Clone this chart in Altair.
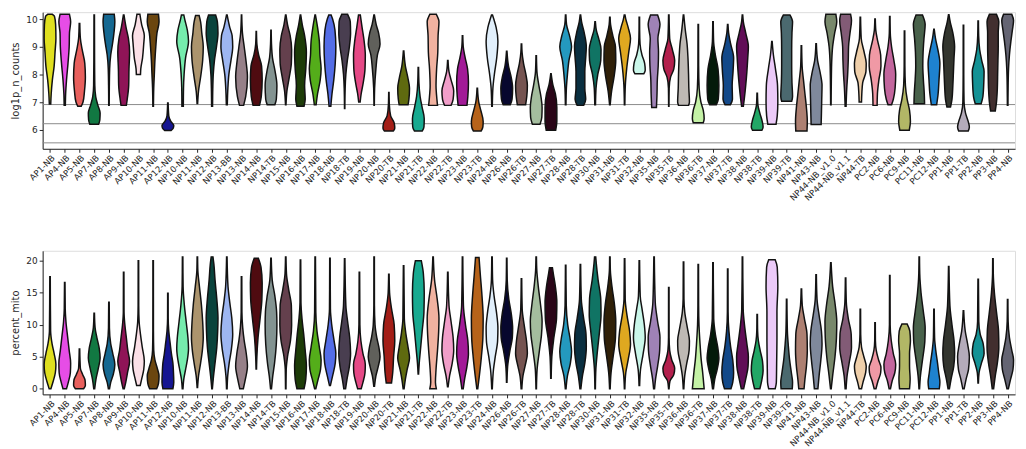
import colorsys
import altair as alt
import pandas as pd

categories = [
    "AP1-NB", "AP4-NB", "AP5-NB", "AP7-NB", "AP8-NB", "AP9-NB", "AP10-NB", "AP11-NB", "AP12-NB",
    "NP10-NB", "NP11-NB", "NP12-NB", "NP13-BB", "NP13-NB", "NP14-NB", "NP14-TB", "NP15-NB",
    "NP16-NB", "NP17-NB", "NP18-NB", "NP18-TB", "NP19-NB", "NP20-NB", "NP20-TB", "NP21-NB",
    "NP21-TB", "NP22-NB", "NP22-TB", "NP23-NB", "NP23-TB", "NP24-NB", "NP26-NB", "NP26-TB",
    "NP27-NB", "NP27-TB", "NP28-NB", "NP28-TB", "NP30-NB", "NP31-NB", "NP31-TB", "NP32-NB",
    "NP35-NB", "NP35-TB", "NP36-NB", "NP36-TB", "NP37-NB", "NP37-TB", "NP38-NB", "NP38-TB",
    "NP39-NB", "NP39-TB", "NP41-NB", "NP43-NB", "NP44-NB_v1.0", "NP44-NB_v1.1", "NP44-TB",
    "PC2-NB", "PC6-NB", "PC9-NB", "PC11-NB", "PC12-NB", "PP1-NB", "PP1-TB", "PP2-NB", "PP3-NB",
    "PP4-NB",
]

palette = [
    "#FFFF00", "#FF34FF", "#FF4A46", "#008941", "#006FA6", "#A30059", "#FFDBE5", "#7A4900",
    "#0000A6", "#63FFAC", "#B79762", "#004D43", "#8FB0FF", "#997D87", "#5A0007", "#809693",
    "#6A3A4C", "#1B4400", "#4FC601", "#3B5DFF", "#4A3B53", "#FF2F80", "#61615A", "#BA0900",
    "#6B7900", "#00C2A0", "#FFAA92", "#FF90C9", "#B903AA", "#D16100", "#DDEFFF", "#000035",
    "#7B4F4B", "#A1C299", "#300018", "#0AA6D8", "#013349", "#00846F", "#372101", "#FFB500",
    "#C2FFED", "#A079BF", "#CC0744", "#C0B9B2", "#C2FF99", "#001E09", "#00489C", "#6F0062",
    "#0CBD66", "#EEC3FF", "#456D75", "#B77B68", "#7A87A1", "#788D66", "#885578", "#FAD09F",
    "#FF8A9A", "#D157A0", "#BEC459", "#456648", "#0086ED", "#34362D", "#B4A8BD", "#00A6AA",
    "#452C2C", "#636375",
]

# threshold lines on log1p_n_counts: log1p(1000), log1p(500), log1p(250)
count_thresholds = [6.909, 6.217, 5.525]

# violin outlines: (value, relative half-width)
counts_profiles = [
    [(6.93, .12), (7.3, .2), (7.8, .4), (8.3, .7), (8.8, .85), (9.3, 1), (9.8, .95), (10.1, .75), (10.17, .4)],
    [(6.88, .1), (7.3, .15), (7.8, .3), (8.4, .55), (9.0, .75), (9.5, .8), (9.9, 1), (10.17, .8)],
    [(6.85, .3), (7.0, .6), (7.4, .85), (7.9, 1), (8.4, .9), (8.9, .45), (9.3, .15), (9.84, .05)],
    [(6.2, .75), (6.35, .95), (6.6, 1), (6.9, .6), (7.2, .25), (7.6, .1), (8.5, .06), (10.15, .04)],
    [(6.88, .04), (7.5, .06), (8.2, .12), (8.7, .3), (9.1, .6), (9.5, .85), (9.9, 1), (10.17, .9)],
    [(6.88, .45), (7.1, .6), (7.6, .85), (8.2, .9), (8.8, 1), (9.3, .8), (9.7, .4), (10.15, .05)],
    [(8.0, .35), (8.2, .4), (8.6, .7), (9.1, .9), (9.4, 1), (9.8, .55), (10.17, .25)],
    [(6.85, .05), (7.5, .1), (8.0, .2), (8.5, .3), (9.0, .45), (9.5, .65), (9.9, 1), (10.17, .9)],
    [(5.97, .55), (6.05, .9), (6.15, 1), (6.3, .5), (6.5, .15), (6.97, .04)],
    [(6.85, .12), (7.5, .15), (8.0, .25), (8.6, .5), (9.2, 1), (9.6, .8), (10.0, .35), (10.15, .2)],
    [(6.95, .05), (7.4, .2), (7.9, .55), (8.5, .9), (9.0, 1), (9.5, .75), (9.9, .55), (10.13, .3)],
    [(6.85, .08), (7.5, .12), (8.0, .2), (8.5, .4), (9.0, .75), (9.5, 1), (9.9, .9), (10.15, .6)],
    [(6.9, .08), (7.5, .18), (8.0, .35), (8.5, .7), (9.0, 1), (9.4, .9), (9.7, .5), (10.15, .05)],
    [(6.88, .35), (7.2, .7), (7.9, 1), (8.5, .75), (9.0, .45), (9.5, .15), (10.15, .03)],
    [(6.88, .55), (7.2, .85), (7.8, 1), (8.3, .9), (8.7, .4), (9.1, .1), (9.55, .03)],
    [(6.9, .65), (7.1, .9), (7.6, 1), (8.1, .7), (8.6, .25), (9.1, .08), (9.6, .03)],
    [(6.9, .04), (7.4, .2), (7.9, .6), (8.4, .95), (8.9, 1), (9.4, .75), (9.8, .3), (10.15, .04)],
    [(6.85, .6), (7.1, .8), (7.6, .7), (8.2, .9), (8.8, 1), (9.4, .7), (9.8, .3), (10.15, .04)],
    [(6.9, .15), (7.3, .4), (7.8, .85), (8.2, 1), (8.7, .8), (9.2, .7), (9.7, .4), (10.15, .04)],
    [(6.85, .15), (7.3, .35), (7.8, .65), (8.4, .9), (9.0, 1), (9.6, .85), (10.0, .45), (10.15, .2)],
    [(6.77, .03), (7.5, .08), (8.0, .2), (8.5, .45), (9.0, .8), (9.5, 1), (9.9, .95), (10.17, .5)],
    [(7.0, .12), (7.3, .3), (7.7, .65), (8.2, .95), (8.7, 1), (9.2, .8), (9.7, .45), (10.15, .15)],
    [(6.88, .03), (7.5, .08), (8.2, .3), (8.7, .55), (9.1, 1), (9.5, .75), (9.8, .35), (10.15, .04)],
    [(5.95, .75), (6.05, 1), (6.25, .9), (6.5, .3), (6.9, .08), (7.35, .03)],
    [(6.9, .75), (7.1, .9), (7.5, 1), (7.9, .7), (8.3, .3), (8.85, .04)],
    [(5.95, .65), (6.1, .95), (6.4, 1), (6.8, .65), (7.2, .3), (7.7, .1), (8.25, .04)],
    [(6.88, .75), (7.1, .65), (7.6, .5), (8.2, .6), (8.8, .8), (9.4, .85), (9.9, 1), (10.17, .55)],
    [(6.88, .55), (7.1, .9), (7.4, 1), (7.8, .55), (8.1, .2), (8.5, .04)],
    [(6.88, .75), (7.2, .9), (7.7, 1), (8.2, .85), (8.6, .45), (9.0, .12), (9.4, .04)],
    [(5.95, .65), (6.1, .95), (6.3, 1), (6.7, .6), (7.0, .25), (7.5, .04)],
    [(6.85, .05), (7.5, .15), (8.0, .4), (8.6, .8), (9.2, 1), (9.7, .7), (10.0, .3), (10.15, .08)],
    [(6.9, .6), (7.1, .9), (7.5, 1), (7.9, .75), (8.3, .3), (8.84, .04)],
    [(6.9, .7), (7.2, .9), (7.6, 1), (8.0, .75), (8.4, .35), (8.8, .1), (9.1, .04)],
    [(6.2, .65), (6.45, .95), (6.8, 1), (7.2, .8), (7.6, .45), (8.1, .12), (8.67, .04)],
    [(5.98, .8), (6.3, 1), (6.8, 1), (7.3, .75), (7.6, .35), (8.02, .04)],
    [(6.9, .05), (7.5, .12), (8.0, .3), (8.5, .55), (9.0, 1), (9.4, .65), (9.8, .15), (10.15, .04)],
    [(6.88, .55), (7.1, .9), (7.5, .75), (8.1, .75), (8.6, .9), (9.0, 1), (9.5, .65), (9.9, .2), (10.15, .04)],
    [(6.9, .06), (7.5, .15), (8.0, .45), (8.5, .95), (8.9, 1), (9.3, .6), (9.6, .2), (9.9, .04)],
    [(6.9, .05), (7.4, .3), (7.9, .7), (8.5, 1), (9.0, .95), (9.4, .5), (9.8, .12), (10.07, .04)],
    [(6.9, .04), (7.6, .12), (8.2, .35), (8.8, .7), (9.3, 1), (9.7, .6), (10.0, .2), (10.15, .06)],
    [(8.02, .75), (8.15, 1), (8.4, .9), (8.7, .45), (9.1, .12), (9.6, .05), (10.07, .04)],
    [(6.8, .4), (7.3, .5), (7.8, .55), (8.3, .7), (8.8, .75), (9.3, .65), (9.8, 1), (10.15, .6)],
    [(6.85, .03), (7.5, .06), (7.9, .3), (8.2, .85), (8.5, 1), (8.9, .6), (9.3, .15), (10.15, .04)],
    [(6.88, .85), (7.0, 1), (7.5, .9), (8.0, .85), (8.6, .75), (9.1, .6), (9.6, .3), (10.15, .04)],
    [(6.25, .85), (6.4, 1), (6.7, .85), (7.0, .45), (7.5, .15), (8.3, .06), (9.8, .04)],
    [(6.9, .55), (7.1, .9), (7.6, 1), (8.2, .85), (8.7, .4), (9.2, .1), (9.9, .04)],
    [(6.9, .45), (7.1, .8), (7.6, .75), (8.1, .9), (8.6, 1), (9.1, .5), (9.5, .15), (9.8, .04)],
    [(6.85, .15), (7.1, .3), (7.6, .55), (8.1, .75), (8.6, .9), (9.0, 1), (9.5, .55), (9.9, .15), (10.15, .04)],
    [(5.98, .8), (6.1, 1), (6.3, .85), (6.6, .45), (6.9, .12), (7.32, .04)],
    [(6.2, .7), (6.5, .9), (7.0, 1), (7.6, .95), (8.2, .6), (8.7, .25), (9.19, .04)],
    [(7.03, .85), (7.2, 1), (7.7, .9), (8.3, .85), (8.9, .85), (9.5, .9), (9.9, 1), (10.15, .55)],
    [(5.95, .95), (6.3, 1), (6.8, .85), (7.3, .6), (7.8, .35), (8.3, .12), (9.04, .04)],
    [(6.19, .85), (6.6, .9), (7.1, .95), (7.6, 1), (8.1, .65), (8.5, .25), (9.11, .04)],
    [(6.9, .04), (7.8, .08), (8.5, .15), (9.0, .3), (9.5, .65), (9.9, 1), (10.17, .85)],
    [(6.85, .08), (7.5, .2), (8.0, .35), (8.5, .45), (9.0, .5), (9.5, .75), (9.95, 1), (10.17, .85)],
    [(7.0, .2), (7.3, .25), (7.7, .4), (8.1, .95), (8.4, 1), (8.8, .65), (9.3, .15), (10.07, .04)],
    [(6.88, .35), (7.3, .4), (7.8, .65), (8.3, 1), (8.7, .95), (9.2, .45), (9.6, .12), (10.0, .04)],
    [(6.9, .3), (7.1, .6), (7.5, .9), (8.0, 1), (8.5, .7), (9.0, .3), (9.5, .08), (10.09, .04)],
    [(5.98, .8), (6.3, 1), (6.7, .85), (7.1, .45), (7.6, .15), (8.3, .06), (9.57, .04)],
    [(6.94, .9), (7.3, .85), (7.8, .7), (8.3, .6), (8.8, .65), (9.3, .8), (9.8, 1), (10.15, .55)],
    [(6.9, .45), (7.3, .7), (7.8, .85), (8.4, 1), (8.9, .65), (9.3, .25), (9.63, .04)],
    [(6.82, .3), (7.1, .55), (7.6, .7), (8.1, .8), (8.6, .9), (9.0, 1), (9.5, .7), (9.9, .25), (10.16, .04)],
    [(5.95, .8), (6.1, 1), (6.3, .8), (6.6, .35), (7.0, .1), (8.0, .05), (9.78, .04)],
    [(6.94, .5), (7.2, .8), (7.7, .95), (8.1, 1), (8.5, .6), (8.9, .25), (9.4, .08), (9.93, .04)],
    [(6.68, .4), (7.0, .6), (7.5, .75), (8.0, .8), (8.5, .85), (9.0, .9), (9.5, .9), (9.9, 1), (10.17, .6)],
    [(6.88, .05), (7.6, .08), (8.2, .15), (8.7, .3), (9.2, .55), (9.6, .8), (9.95, 1), (10.17, .7)],
]

mito_profiles = [
    [(0, .15), (1.2, .55), (2.5, .9), (3.8, 1), (5.5, .7), (7.0, .35), (9.0, .1), (17.5, .04)],
    [(0, .3), (1.0, .6), (2.5, .95), (4.0, 1), (6.0, .75), (8.0, .5), (10.5, .2), (12.5, .08), (16.6, .04)],
    [(0, .7), (0.5, 1), (1.3, .95), (2.2, .55), (3.2, .15), (6.2, .04)],
    [(0, .08), (1.5, .3), (3.0, .65), (4.8, 1), (6.3, .85), (8.0, .45), (9.5, .15), (11.8, .04)],
    [(0, .1), (1.0, .3), (2.3, .75), (3.8, 1), (5.5, .65), (7.0, .3), (9.5, .08), (13.5, .04)],
    [(0, .1), (1.0, .35), (2.5, .65), (4.3, 1), (6.0, .7), (8.0, .45), (10.0, .2), (12.0, .06), (18.2, .04)],
    [(0.5, .3), (1.5, .55), (3.0, .9), (4.3, 1), (6.5, .65), (8.5, .35), (10.5, .12), (13, .05), (20.0, .04)],
    [(0, .6), (0.8, .9), (2.0, 1), (3.2, .7), (4.5, .3), (6.0, .1), (9.0, .05), (20.0, .04)],
    [(0, .85), (1.0, 1), (2.5, .95), (4.0, .85), (5.5, .6), (7.0, .4), (9.0, .15), (11, .05), (14.9, .04)],
    [(0, .06), (1.5, .2), (3.0, .5), (4.5, .8), (6.3, 1), (8.0, .9), (10.5, .6), (13, .3), (16, .08), (20.6, .04)],
    [(0.2, .04), (2.0, .2), (4.0, .55), (6.0, .85), (8.0, 1), (10.5, .9), (13, .7), (16, .35), (18.5, .08), (20.6, .04)],
    [(0, .05), (2.0, .25), (4.0, .5), (6.5, .8), (9.0, .95), (11, 1), (14, .8), (17, .5), (19.5, .3), (20.6, .15)],
    [(0, .05), (2.0, .15), (4.0, .4), (6.0, .75), (8.5, 1), (11, .85), (13.5, .5), (16, .2), (20.6, .04)],
    [(0, .3), (1.5, .65), (3.5, 1), (5.5, .8), (7.5, .45), (9.5, .2), (12, .06), (17.5, .04)],
    [(3.1, .04), (5.0, .1), (8.0, .3), (11, .65), (14, .95), (16.5, 1), (19, .8), (20.4, .35)],
    [(0, .08), (2.0, .3), (4.0, .6), (7.0, .9), (10, 1), (12, .95), (14.5, .65), (17, .2), (20.4, .04)],
    [(0, .04), (3.0, .08), (5.0, .3), (7.5, .8), (10, 1), (13, .95), (15.5, .5), (18, .12), (20.6, .04)],
    [(0, .6), (1.5, .9), (3.5, 1), (6.0, .8), (8.5, .55), (11, .25), (13.5, .08), (20.1, .04)],
    [(0, .1), (1.5, .5), (3.0, .9), (4.5, 1), (6.5, .7), (9.0, .3), (12, .1), (20.6, .04)],
    [(0.5, .08), (2.0, .45), (4.0, .9), (5.5, 1), (7.5, .7), (10, .3), (12.5, .08), (20.4, .04)],
    [(0, .15), (1.5, .4), (3.5, .8), (5.5, 1), (8.0, .85), (10.5, .5), (13, .2), (20.3, .04)],
    [(0, .3), (1.0, .6), (2.5, .95), (3.8, 1), (5.5, .6), (7.5, .25), (10, .08), (18.2, .04)],
    [(0.4, .06), (2.0, .3), (3.5, .7), (5.0, 1), (6.5, .8), (8.0, .45), (10, .15), (13, .05), (20.6, .04)],
    [(0.9, .45), (2.5, .65), (5.0, .8), (7.5, 1), (10, .9), (12.5, .45), (15, .12), (17.9, .04)],
    [(0, .08), (1.5, .3), (3.0, .6), (4.8, 1), (6.5, .75), (8.5, .4), (11, .12), (19.2, .04)],
    [(2.3, .04), (4.0, .15), (6.0, .35), (9.0, .65), (12, .95), (15, 1), (18, .85), (20.0, .5)],
    [(0, .55), (1.0, .4), (3.0, .5), (6.0, .75), (9.0, .95), (11, 1), (14, .7), (17, .25), (20.6, .04)],
    [(0.3, .05), (2.0, .3), (4.0, .75), (6.0, 1), (8.0, .9), (10.5, .55), (13, .2), (18.2, .04)],
    [(0, .12), (1.5, .35), (3.5, .75), (5.5, 1), (7.5, .9), (10, .5), (13, .15), (20.6, .04)],
    [(0, .08), (2.0, .35), (5.0, .7), (8.0, .95), (11, 1), (14.5, .8), (18, .5), (20.5, .3)],
    [(0, .05), (3.0, .25), (5.0, .55), (7.5, .95), (9.5, 1), (12, .75), (14.5, .35), (17, .1), (20.6, .04)],
    [(1.0, .04), (3.5, .15), (6.0, .55), (8.0, .95), (9.5, 1), (11.5, .8), (14, .35), (17, .08), (20.4, .04)],
    [(0, .06), (2.0, .25), (3.5, .6), (5.5, 1), (7.5, .85), (10, .45), (12.5, .12), (17.2, .04)],
    [(0, .04), (3.0, .15), (6.0, .55), (8.5, .9), (10.5, 1), (13, .75), (16, .35), (18.5, .1), (20.6, .04)],
    [(1.65, .04), (5.0, .15), (8.0, .5), (11, .95), (13.5, 1), (16, .75), (18, .4), (18.9, .25)],
    [(0, .06), (2.0, .3), (4.0, .8), (5.8, 1), (7.5, .8), (10, .35), (13, .1), (19.3, .04)],
    [(0, .08), (2.0, .35), (4.0, .75), (6.5, 1), (8.5, .95), (11, .55), (14, .15), (19.4, .04)],
    [(0, .04), (3.0, .12), (6.0, .4), (9.0, .75), (11.5, 1), (14, .95), (17, .5), (19.5, .2), (20.6, .1)],
    [(0, .05), (2.5, .2), (5.0, .55), (8.0, .95), (10.5, 1), (13, .8), (16, .35), (18.5, .08), (20.6, .04)],
    [(0, .04), (2.5, .2), (4.5, .6), (7.0, 1), (9.0, .85), (11.5, .4), (14, .1), (20.3, .04)],
    [(0.5, .05), (3.0, .2), (5.5, .65), (8.0, 1), (10, .85), (12.5, .45), (14.5, .15), (20.0, .04)],
    [(0, .08), (1.5, .25), (3.5, .6), (6.0, .95), (8.0, 1), (10.5, .6), (13.5, .2), (20.6, .04)],
    [(0, .04), (1.2, .2), (2.2, .85), (3.2, 1), (4.5, .5), (6.0, .15), (8.0, .05), (15.8, .04)],
    [(0, .05), (2.0, .2), (4.0, .55), (6.0, .95), (7.5, 1), (9.5, .65), (12, .2), (14, .07), (19.8, .04)],
    [(0, 1), (1.0, .9), (2.5, .75), (4.5, .5), (7.0, .3), (10, .12), (13, .06), (19.4, .04)],
    [(0, .08), (1.5, .3), (3.0, .7), (4.8, 1), (6.5, .8), (8.5, .4), (11, .12), (19.7, .04)],
    [(0, .55), (1.0, .85), (2.5, 1), (4.5, .85), (6.5, .5), (9.0, .2), (12, .06), (18.7, .04)],
    [(0, .2), (1.5, .55), (3.5, .95), (5.0, 1), (7.0, .75), (9.5, .4), (12.5, .12), (20.6, .04)],
    [(0, .45), (1.2, .75), (2.8, 1), (4.3, .9), (6.0, .5), (7.5, .2), (9.0, .07), (11.6, .04)],
    [(0, .55), (1.0, .75), (4.0, .8), (8.0, .85), (12, .85), (16, 1), (19, .9), (20.15, .55)],
    [(0, .95), (1.0, 1), (2.5, .8), (4.5, .5), (6.5, .3), (9.0, .12), (14.0, .04)],
    [(0, .45), (1.5, .6), (3.5, .85), (6.0, 1), (8.5, .95), (11, .5), (13, .15), (15.6, .04)],
    [(0, .3), (2.0, .5), (4.5, .8), (7.0, 1), (9.0, .9), (11.5, .5), (14, .15), (17.8, .04)],
    [(0, .06), (2.0, .3), (5.0, .7), (8.0, .95), (10.5, 1), (13, .75), (16, .3), (19.7, .04)],
    [(0, .08), (2.0, .25), (4.0, .6), (6.5, 1), (8.5, .95), (11, .45), (13.5, .12), (17.3, .04)],
    [(0, .2), (1.0, .45), (2.5, .9), (3.5, 1), (5.0, .6), (6.5, .2), (8.5, .06), (12.4, .04)],
    [(0, .15), (1.2, .5), (2.5, .95), (3.3, 1), (4.5, .6), (6.0, .2), (7.5, .06), (10.3, .04)],
    [(0, .12), (1.2, .4), (2.5, .85), (3.8, 1), (5.5, .6), (7.5, .25), (10, .06), (17.7, .04)],
    [(0, .85), (1.5, .95), (3.5, .85), (5.5, .85), (7.5, 1), (9.0, .9), (10.1, .45)],
    [(0, .05), (2.0, .2), (4.5, .55), (7.5, .95), (9.5, 1), (12, .7), (15, .3), (18, .08), (20.6, .04)],
    [(0, .9), (1.0, 1), (2.5, .8), (4.0, .6), (6.0, .3), (8.0, .1), (12.4, .04)],
    [(0, .12), (1.5, .4), (3.5, .85), (5.5, 1), (7.5, .9), (10, .55), (13, .2), (19.1, .04)],
    [(0, .12), (1.5, .45), (3.0, .85), (5.0, 1), (7.0, .7), (9.0, .3), (12.2, .04)],
    [(0.9, .04), (2.5, .15), (4.0, .55), (5.5, 1), (7.0, .85), (8.5, .35), (10.5, .1), (17.1, .04)],
    [(0, .12), (2.0, .4), (4.0, .75), (6.5, 1), (9.0, .95), (12, .6), (15, .25), (18, .06), (20.3, .04)],
    [(0, .12), (1.5, .5), (3.0, .9), (4.5, 1), (6.0, .7), (8.0, .3), (10.5, .08), (13.95, .04)],
]

assert len(categories) == len(palette) == len(counts_profiles) == len(mito_profiles)


def desaturate(hexc, amount=0.75):
    r, g, b = (int(hexc[i:i + 2], 16) / 255 for i in (1, 3, 5))
    h, l, s = colorsys.rgb_to_hls(r, g, b)
    r, g, b = colorsys.hls_to_rgb(h, l, s * amount)
    return "#%02x%02x%02x" % tuple(round(c * 255) for c in (r, g, b))


colors = [desaturate(c) for c in palette]


def to_frame(profiles):
    rows = []
    for i, (cat, prof) in enumerate(zip(categories, profiles)):
        for v, r in prof:
            rows.append({"cat": cat, "idx": i, "value": v, "r": r})
    return pd.DataFrame(rows)


label_expr = "[" + ",".join("'%s'" % c for c in categories) + "][datum.value]"
FONT = "DejaVu Sans"
INK = "#262626"


def panel(df, ytitle, ydomain, yticks, height, thresholds=None):
    x_axis = alt.Axis(values=list(range(len(categories))), labelExpr=label_expr, labelAngle=-45,
                      labelAlign="right", labelBaseline="top", labelOverlap=False, labelFlush=False,
                      labelBound=False, title=None, grid=False, tickSize=3.5, labelFontSize=8.6,
                      labelPadding=1, labelFont=FONT, labelColor=INK, domainColor=INK,
                      tickColor=INK)
    x_scale = alt.Scale(domain=[-0.5, len(categories) - 0.5], nice=False, zero=False)
    y_scale = alt.Scale(domain=ydomain, nice=False, zero=False)
    y_axis = alt.Axis(values=yticks, title=ytitle, grid=False, tickSize=3.5, labelFontSize=9,
                      labelFont=FONT, titleFont=FONT, titleFontSize=10, titleFontWeight="normal",
                      titleColor=INK, labelColor=INK, domainColor=INK,
                      tickColor=INK, labelPadding=2, titlePadding=5)
    base = alt.Chart(df).transform_calculate(
        xl="datum.idx - 0.4 * datum.r", xr="datum.idx + 0.4 * datum.r")
    violins = base.mark_area(orient="horizontal", interpolate="monotone", stroke="#121212",
                             strokeWidth=1.5, opacity=1).encode(
        y=alt.Y("value:Q", scale=y_scale, axis=y_axis),
        x=alt.X("xl:Q", scale=x_scale, axis=x_axis, stack=None),
        x2="xr:Q",
        color=alt.Color("cat:N", scale=alt.Scale(domain=categories, range=colors), legend=None),
    )
    layers = []
    if thresholds:
        rules = alt.Chart(pd.DataFrame({"value": thresholds})).mark_rule(
            color="#8a8a8a", strokeWidth=1).encode(y=alt.Y("value:Q", scale=y_scale, axis=y_axis))
        layers.append(rules)
    layers.append(violins)
    return alt.layer(*layers).properties(width=982, height=height)


top = panel(to_frame(counts_profiles), "log1p_n_counts", [5.31, 10.25], [6, 7, 8, 9, 10], 138,
            count_thresholds)
bottom = panel(to_frame(mito_profiles), "percent_mito", [-0.88, 21.55], [0, 5, 10, 15, 20], 145)

chart = alt.vconcat(top, bottom, spacing=47).properties(
    padding={"left": 2, "top": 0, "right": 0, "bottom": 0}
).configure_view(stroke="#555555", strokeWidth=1).configure(background="white")

chart.save("out.html", embed_options={"renderer": "svg", "actions": False})
